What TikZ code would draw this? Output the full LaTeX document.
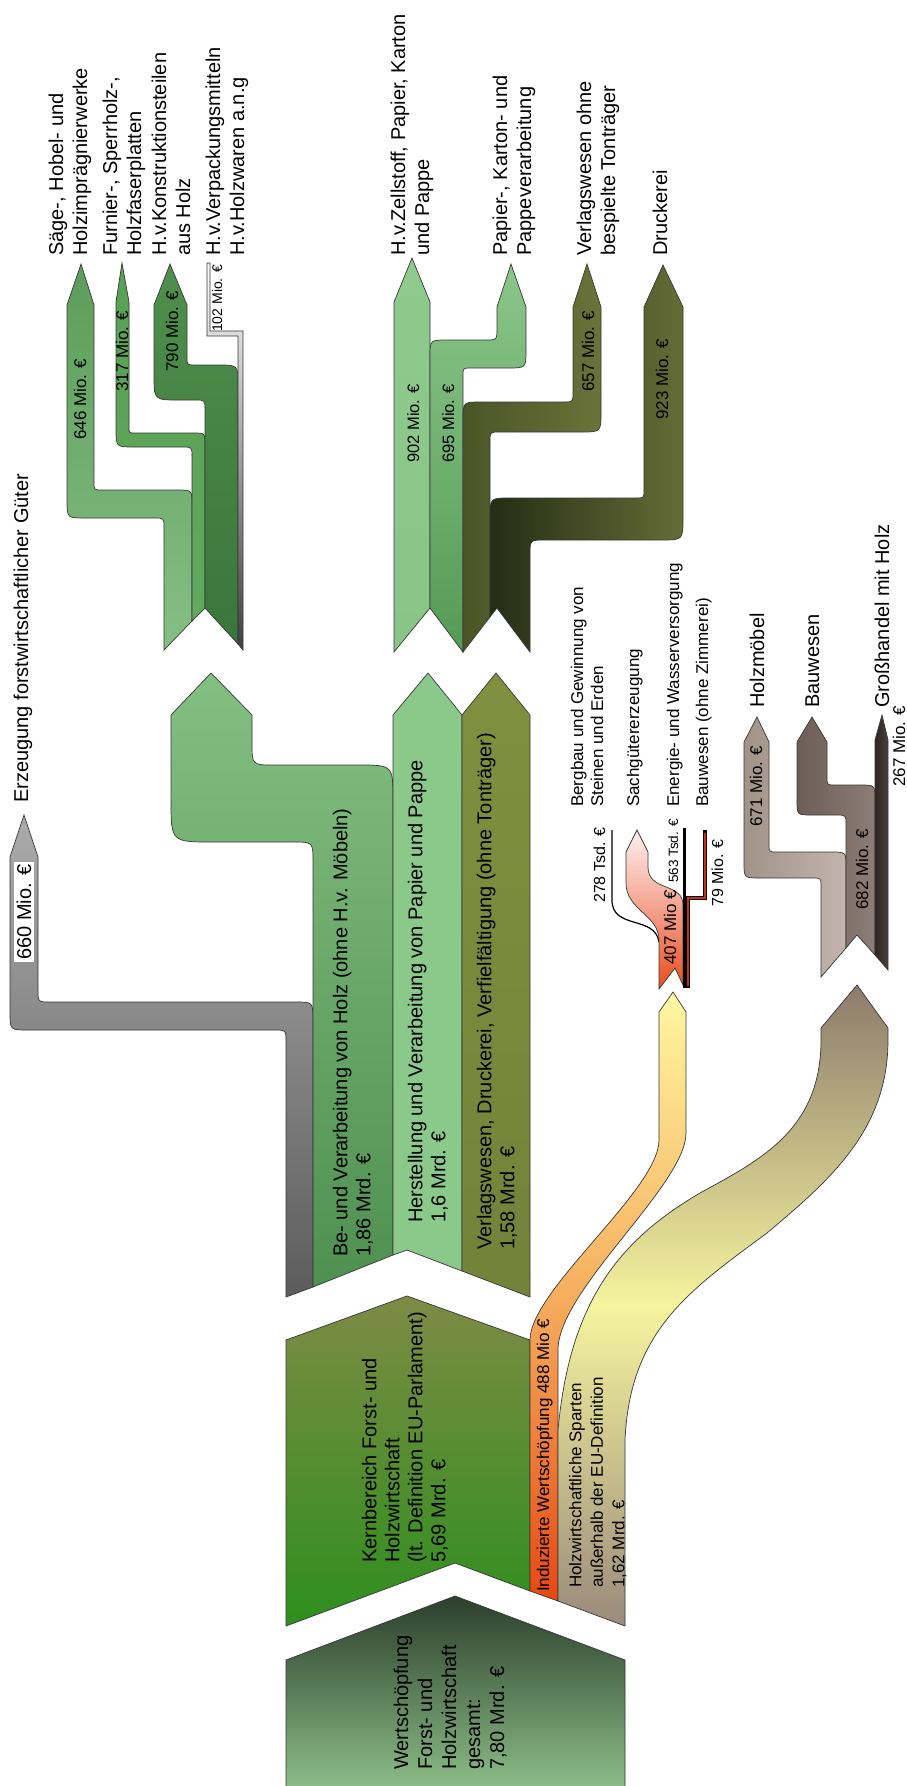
\documentclass[tikz,border=0pt]{standalone}
\usepackage{fontspec}
\setmainfont{Liberation Sans}
\newcommand{\myfs}[2]{\fontsize{#1}{#2}\selectfont}
\definecolor{wsTop}{HTML}{2B3E2B}\definecolor{wsBot}{HTML}{92C58D}
\definecolor{kbTop}{HTML}{7D8B44}\definecolor{kbBot}{HTML}{2E8F1E}
\definecolor{grTop}{HTML}{ABABAB}\definecolor{grBot}{HTML}{5C5C5C}
\definecolor{beTop}{HTML}{84BF82}\definecolor{beBot}{HTML}{4F9050}
\definecolor{herst}{HTML}{8BC98A}
\definecolor{verlTop}{HTML}{80903F}\definecolor{verlBot}{HTML}{72833A}
\definecolor{gaTop}{HTML}{5C9C5A}\definecolor{gaBot}{HTML}{86BF84}
\definecolor{gbTop}{HTML}{58A055}\definecolor{gbBot}{HTML}{62A85E}
\definecolor{gcTop}{HTML}{4F8F4D}\definecolor{gcBot}{HTML}{3A763A}
\definecolor{pzTop}{HTML}{8DCA8B}\definecolor{pzBot}{HTML}{88C586}
\definecolor{ppTop}{HTML}{8AC689}\definecolor{ppBot}{HTML}{559A55}
\definecolor{vaL}{HTML}{4B5426}\definecolor{vaR}{HTML}{6A7339}
\definecolor{vbL}{HTML}{262C14}\definecolor{vbR}{HTML}{656D36}
\definecolor{hmL}{HTML}{A29389}\definecolor{hmR}{HTML}{C3B5AC}
\definecolor{bwL}{HTML}{6C5E56}\definecolor{bwR}{HTML}{8C7E76}
\definecolor{ghL}{HTML}{2E2622}\definecolor{ghR}{HTML}{4A403C}
\definecolor{pkTop}{HTML}{FDF0EE}\definecolor{pkMid}{HTML}{F4A08C}\definecolor{pkBot}{HTML}{E84E1C}
\definecolor{orTop}{HTML}{FFF7A2}\definecolor{orMid}{HTML}{F6AE5E}\definecolor{orBot}{HTML}{E64812}
\definecolor{tnTop}{HTML}{8C7B6C}\definecolor{tnMid}{HTML}{F6F49E}\definecolor{tnBot}{HTML}{9A8A7B}
\definecolor{redband}{HTML}{C83010}
\begin{document}
\begin{tikzpicture}[x=1pt,y=-1pt,
  band/.style={draw=black!78, line width=0.7pt},
  lbl/.style={rotate=90, anchor=north west, inner sep=0pt, align=left, font=\myfs{20}{23}},
  lbs/.style={rotate=90, anchor=base west, inner sep=0pt, font=\myfs{17}{20}}]
\useasboundingbox (0,0) rectangle (906,1786);
\fill[white] (0,0) rectangle (906,1786);

% gray band (Erzeugung forstwirtschaftlicher Gueter)
\path[band, top color=grTop, bottom color=grBot] (24,815) -- (38,857) -- (38,990) .. controls (38,1002) .. (50,1002) -- (295,1002) .. controls (313,1002) .. (313,1020) -- (313,1287) -- (286,1297) -- (286,1042) .. controls (286,1030) .. (274,1030) -- (28,1030) .. controls (10,1030) .. (10,1012) -- (10,857) -- cycle;

% columns
\path[band, top color=beTop, bottom color=beBot] (211,673) -- (252,715) -- (252,743) .. controls (252,765) .. (274,765) -- (358,765) .. controls (393,765) .. (393,800) -- (393,1255) -- (313,1287) -- (313,862) .. controls (313,842) .. (293,842) -- (213,842) .. controls (171,842) .. (171,800) -- (171,715) -- cycle;
\path[band, fill=herst] (428,673) -- (462,715) -- (462,1271) -- (407,1250) -- (393,1255) -- (393,715) -- cycle;
\path[band, top color=verlTop, bottom color=verlBot] (496,673) -- (530,715) -- (530,1297) -- (462,1271) -- (462,715) -- cycle;

% top-left fork
\path[band, top color=gaTop, bottom color=gaBot] (81,264) -- (94,305) -- (94,482) .. controls (94,490) .. (102,490) -- (177,490) .. controls (192,490) .. (192,505) -- (192,621) -- (164,650) -- (164,528) .. controls (164,518) .. (154,518) -- (85,518) .. controls (67,518) .. (67,500) -- (67,305) -- cycle;
\path[band, top color=gbTop, bottom color=gbBot] (122,263) -- (129,302) -- (129,427) .. controls (129,433) .. (135,433) -- (193,433) .. controls (205,433) .. (205,445) -- (205,608) -- (192,621) -- (192,457) .. controls (192,447) .. (182,447) -- (134,447) .. controls (116,447) .. (116,429) -- (116,302) -- cycle;
\path[band, top color=gcTop, bottom color=gcBot] (170,264) -- (187,305) -- (187,357) .. controls (187,365) .. (195,365) -- (218,365) .. controls (238,365) .. (238,385) -- (238,644) -- (205,608) -- (205,410) .. controls (205,400) .. (195,400) -- (179,400) .. controls (154,400) .. (154,375) -- (154,305) -- cycle;
\path[band, top color=white, bottom color=black!75] (207,263) -- (210,263) -- (210,331) -- (243,331) -- (243,650) -- (238,644) -- (238,336) -- (207,336) -- cycle;

% top-right forks
\path[band, top color=pzTop, bottom color=pzBot] (412,258) -- (430,302) -- (430,608) -- (394,652) -- (394,302) -- cycle;
\path[band, top color=ppTop, bottom color=ppBot] (511,264) -- (526,307) -- (526,350) .. controls (526,368) .. (508,368) -- (471,368) .. controls (463,368) .. (463,376) -- (463,652) -- (430,608) -- (430,357) .. controls (430,340) .. (447,340) -- (485,340) .. controls (497,340) .. (497,328) -- (497,307) -- cycle;
\path[band, left color=vaL, right color=vaR] (587,264) -- (601,307) -- (601,412) .. controls (601,432) .. (581,432) -- (500,432) .. controls (490,432) .. (490,442) -- (490,617) -- (463,652) -- (463,420) .. controls (463,402) .. (481,402) -- (563,402) .. controls (573,402) .. (573,392) -- (573,307) -- cycle;
\path[band, left color=vbL, right color=vbR] (663,265) -- (683,307) -- (683,518) .. controls (683,540) .. (661,540) -- (545,540) .. controls (530,540) .. (530,555) -- (530,652) -- (497,608) -- (490,617) -- (490,518) .. controls (490,498) .. (510,498) -- (636,498) .. controls (644,498) .. (644,490) -- (644,307) -- cycle;

% Kernbereich
\path[band, top color=kbTop, bottom color=kbBot] (286,1340) -- (407,1296) -- (530,1340) -- (530,1591) -- (455,1563) -- (286,1626) -- cycle;

% induced (orange) band
\path[band, top color=orTop, bottom color=orBot, middle color=orMid] (673,992) -- (686,1012) -- (686,1133) .. controls (686,1185) and (558,1290) .. (558,1350) -- (558,1601) -- (530,1591) -- (530,1340) .. controls (530,1290) and (659,1190) .. (659,1140) -- (659,1012) -- cycle;

% tan band
\path[band, top color=tnTop, bottom color=tnBot, middle color=tnMid] (857,985) -- (888,1028) -- (888,1040) .. controls (888,1130) and (830,1180) .. (767,1233) .. controls (690,1290) and (630,1330) .. (625,1440) -- (625,1626) -- (558,1601) -- (558,1430) .. controls (570,1300) and (620,1240) .. (700,1193) .. controls (760,1160) and (821,1130) .. (821,1040) -- (821,1028) -- cycle;

% total block
\path[band, top color=wsTop, bottom color=wsBot] (286,1800) -- (286,1660) -- (455,1596) -- (625,1660) -- (625,1800) -- cycle;

% Sachgueter fork
\draw[black, line width=1.2pt] (612,830) -- (612,900) .. controls (612,930) and (655,915) .. (659,942);
\path[band, top color=pkTop, bottom color=pkBot, middle color=pkMid] (637,830) -- (648,852) -- (648,867) .. controls (648,892) and (683,882) .. (683,905) -- (683,985) -- (675,968) -- (659,989) -- (659,940) .. controls (659,915) and (626,910) .. (626,883) -- (626,852) -- cycle;
\draw[black, line width=3pt] (684,828) -- (684,988);
\draw[black, line width=3.4pt] (705,830) -- (705,898) -- (688,898) -- (688,988);
\draw[redband, line width=1.3pt] (705,833) -- (705,898) -- (688,898) -- (688,986);

% Holz fork (right)
\path[band, left color=hmL, right color=hmR] (757,717) -- (769,742) -- (769,844) .. controls (769,852) .. (777,852) -- (831,852) .. controls (846,852) .. (846,867) -- (846,948) -- (821,977) -- (821,886) .. controls (821,878) .. (813,878) -- (760,878) .. controls (744,878) .. (744,862) -- (744,742) -- cycle;
\path[band, left color=bwL, right color=bwR] (812,717) -- (827,742) -- (827,777) .. controls (827,785) .. (835,785) -- (860,785) .. controls (875,785) .. (875,800) -- (875,955) -- (857,935) -- (846,948) -- (846,825) .. controls (846,815) .. (836,815) -- (812,815) .. controls (797,815) .. (797,800) -- (797,742) -- cycle;
\path[band, left color=ghL, right color=ghR] (882,715) -- (888,740) -- (888,970) -- (875,955) -- (875,740) -- cycle;

% ---------- texts ----------
\node[lbl, font=\myfs{20}{24}] (tSaege) at (46,256) {\strut Säge-, Hobel- und\\Holzimprägnierwerke};
\node[lbl, font=\myfs{20}{24}] (tFurn) at (100,256) {\strut Furnier-, Sperrholz-,\\Holzfaserplatten};
\node[lbl, font=\myfs{20}{24}] (tKonst) at (149,256) {\strut H.v.Konstruktionsteilen\\aus Holz};
\node[lbl, font=\myfs{20}{24}] (tVerp) at (203,256) {\strut H.v.Verpackungsmitteln\\H.v.Holzwaren a.n.g};
\node[lbl, font=\myfs{20}{24}] (tZell) at (388,256) {\strut H.v.Zellstoff, Papier, Karton\\und Pappe};
\node[lbl, font=\myfs{20}{24}] (tPapV) at (490,256) {\strut Papier-, Karton- und\\Pappeverarbeitung};
\node[lbl, font=\myfs{20}{24}] (tVerlO) at (574,256) {\strut Verlagswesen ohne\\bespielte Tonträger};
\node[lbs, font=\myfs{20}{24}] (tDruck) at (667,256) {Druckerei};

\node[lbs, font=\myfs{20}{24}] (tErz) at (28,803) {Erzeugung forstwirtschaftlicher Güter};
\node[rotate=90, fill=white, inner xsep=2pt, inner ysep=2.5pt, font=\myfs{20}{24}] (t660) at (24,912) {660 Mio. €};

\node[lbs] (v646) at (86,440) {646 Mio. €};
\node[lbs] (v317) at (128,392) {317 Mio. €};
\node[lbs] (v790) at (178,372) {790 Mio. €};
\node[lbs, font=\myfs{14}{16}] (v102) at (222,332) {102 Mio. €};
\node[lbs, font=\myfs{16.5}{19}] (v902) at (419,463) {902 Mio. €};
\node[lbs, font=\myfs{16.5}{19}] (v695) at (454,463) {695 Mio. €};
\node[lbs] (v657) at (594,392) {657 Mio. €};
\node[lbs] (v923) at (668,420) {923 Mio. €};
\node[lbs] (v671) at (762,827) {671 Mio. €};
\node[lbs] (v682) at (868,910) {682 Mio. €};
\node[lbs] (v267) at (905,787) {267 Mio. €};
\node[lbs] (v407) at (676,965) {407 Mio €};
\node[lbs, font=\myfs{16}{19}] (v278) at (605,903) {278 Tsd. €};
\node[lbs, font=\myfs{13.5}{16}] (v563) at (678,883) {563 Tsd. €};
\node[lbs, font=\myfs{16}{19}] (v79) at (723,907) {79 Mio. €};

\node[lbl, font=\myfs{17}{20}] (tBerg) at (569,807) {\strut Bergbau und Gewinnung von\\Steinen und Erden};
\node[lbs] (tSach) at (639,807) {Sachgütererzeugung};
\node[lbs] (tEner) at (679,807) {Energie- und Wasserversorgung};
\node[lbs] (tBauo) at (708,807) {Bauwesen (ohne Zimmerei)};

\node[lbs, font=\myfs{20}{24}] (tHM) at (764,708) {Holzmöbel};
\node[lbs, font=\myfs{20}{24}] (tBW) at (819,708) {Bauwesen};
\node[lbs, font=\myfs{20}{24}] (tGH) at (889,708) {Großhandel mit Holz};

\node[lbl] (tBe) at (331,1257) {\strut Be- und Verarbeitung von Holz (ohne H.v. Möbeln)\\1,86 Mrd. €};
\node[lbl] (tHer) at (406,1223) {\strut Herstellung und Verarbeitung von Papier und Pappe\\1,6 Mrd. €};
\node[lbl] (tVer) at (475,1250) {\strut Verlagswesen, Druckerei, Verfielfältigung (ohne Tonträger)\\1,58 Mrd. €};
\node[lbl] (tKern) at (360,1563) {\strut Kernbereich Forst- und\\Holzwirtschaft\\(lt. Definition EU-Parlament)\\5,69 Mrd. €};
\node[lbl, font=\myfs{20}{24}] (tWS) at (391,1770) {\strut Wertschöpfung\\Forst- und\\Holzwirtschaft\\gesamt:\\7,80 Mrd. €};
\node[lbs] (tInd) at (549,1592) {Induzierte Wertschöpfung 488 Mio €};
\node[lbl, font=\myfs{17}{21.5}] (tHWS) at (566,1588) {\strut Holzwirtschaftliche Sparten\\außerhalb der EU-Definition\\1,62 Mrd. €};
\end{tikzpicture}
\end{document}
